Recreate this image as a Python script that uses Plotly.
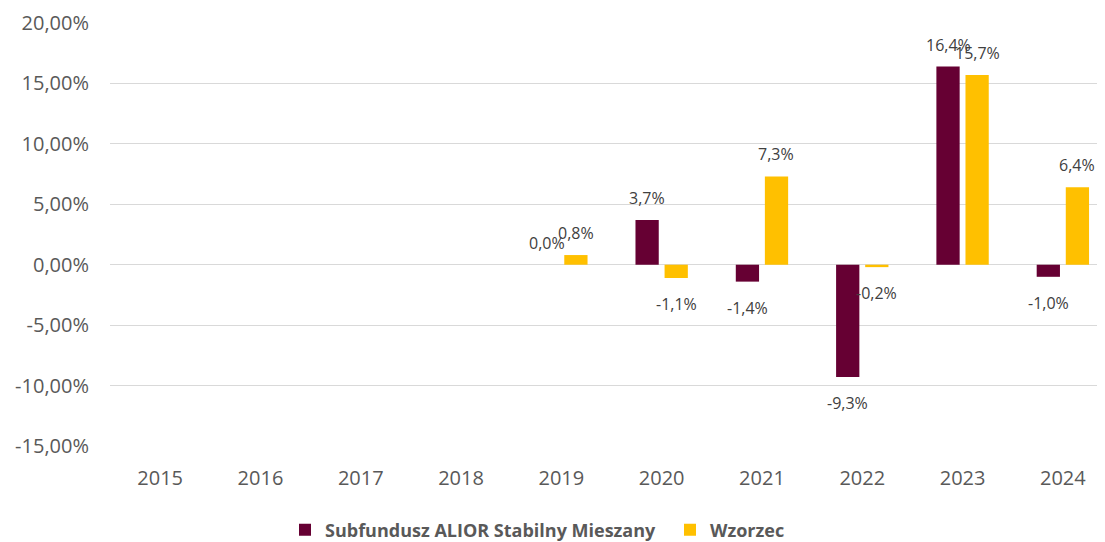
import plotly.graph_objects as go

years = ["2015", "2016", "2017", "2018", "2019", "2020", "2021", "2022", "2023", "2024"]
fund_name = "Subfundusz ALIOR Stabilny Mieszany"
bench_name = "Wzorzec"
fund = [None, None, None, None, 0.0, 3.7, -1.4, -9.3, 16.4, -1.0]
bench = [None, None, None, None, 0.8, -1.1, 7.3, -0.2, 15.7, 6.4]
y_ticks = [20, 15, 10, 5, 0, -5, -10, -15]
y_tick_labels = ["20,00%", "15,00%", "10,00%", "5,00%", "0,00%", "-5,00%", "-10,00%", "-15,00%"]

MAROON = "#660033"
YELLOW = "#FFC000"
FONT = "Open Sans"

fig = go.Figure()
fig.add_trace(go.Bar(x=years, y=fund, name=fund_name, marker=dict(color=MAROON, line=dict(width=0))))
fig.add_trace(go.Bar(x=years, y=bench, name=bench_name, marker=dict(color=YELLOW, line=dict(width=0))))

def fmt(v):
    return f"{v:.1f}%".replace(".", ",")

annotations = []
for series, shift in ((fund, -14.5), (bench, 14.5)):
    for i, v in enumerate(series):
        if v is None:
            continue
        annotations.append(dict(
            x=i, y=v, xref="x", yref="y", text=fmt(v), showarrow=False,
            xshift=shift, yshift=22 if v >= 0 else -26,
            font=dict(family=FONT, size=16, color="#404040"),
            xanchor="center", yanchor="middle",
        ))

W, H = 1097, 542  # page body has an 8px margin, so the figure starts 8px right / down
fig.update_layout(
    width=W, height=H,
    margin=dict(l=102, r=0, t=15, b=104),
    paper_bgcolor="white", plot_bgcolor="white",
    barmode="group", bargap=0.42, bargroupgap=0.2,
    font=dict(family=FONT, color="#595959"),
    showlegend=True,
    legend=dict(
        orientation="h", xref="container", yref="container",
        x=277 / W, xanchor="left",
        y=1 - 522 / H, yanchor="middle",
        entrywidth=340, entrywidthmode="pixels",
        font=dict(family=FONT, size=18, color="#595959", weight="bold"),
        itemclick=False, traceorder="normal",
    ),
    annotations=annotations,
    xaxis=dict(
        type="category", range=[-0.5, 9.42], showgrid=False,
        showline=False, ticks="", ticklabelstandoff=18,
        tickfont=dict(family=FONT, size=20, color="#595959"),
    ),
    yaxis=dict(
        range=[-15, 20], tickvals=y_ticks, ticktext=y_tick_labels,
        showgrid=True, gridcolor="#d9d9d9", gridwidth=1,
        zeroline=True, zerolinecolor="#d9d9d9", zerolinewidth=1,
        showline=False, ticks="", ticklabelstandoff=20,
        tickfont=dict(family=FONT, size=20, color="#595959"),
    ),
)

fig.write_html("out.html")
